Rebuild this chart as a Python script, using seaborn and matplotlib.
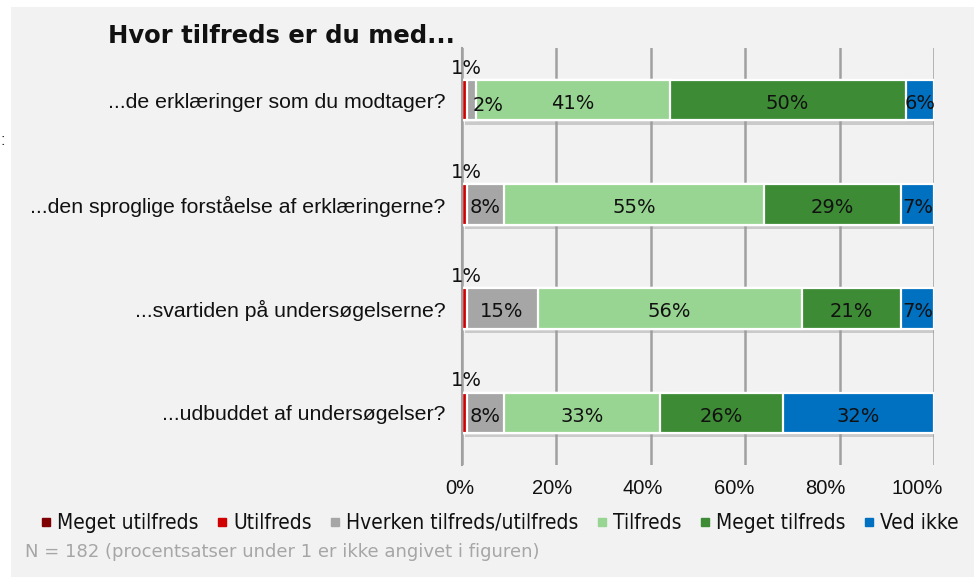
import matplotlib
matplotlib.use("Agg")
import matplotlib.pyplot as plt
import matplotlib.patheffects as pe
import matplotlib.transforms as mtransforms
from matplotlib.patches import Rectangle
from matplotlib.lines import Line2D
import seaborn as sns
import numpy as np
import pandas as pd

categories = [
    "...de erklæringer som du modtager?",
    "...den sproglige forståelse af erklæringerne?",
    "...svartiden på undersøgelserne?",
    "...udbuddet af undersøgelser?",
]
series_names = ["Meget utilfreds", "Utilfreds", "Hverken tilfreds/utilfreds",
                "Tilfreds", "Meget tilfreds", "Ved ikke"]
meget_utilfreds = [0, 0, 0, 0]
utilfreds = [1, 1, 1, 1]
hverken = [2, 8, 15, 8]
tilfreds = [41, 55, 56, 33]
meget_tilfreds = [50, 29, 21, 26]
ved_ikke = [6, 7, 7, 32]
x_ticks = [0, 20, 40, 60, 80, 100]
x_tick_labels = ["0%", "20%", "40%", "60%", "80%", "100%"]

colors = ["#7F0000", "#D00000", "#A6A6A6", "#99D592", "#3D8C35", "#0070C0"]
values = [meget_utilfreds, utilfreds, hverken, tilfreds, meget_tilfreds, ved_ikke]

sns.set_theme(style="white")
plt.rcParams["font.family"] = ["Liberation Sans", "DejaVu Sans"]

fig = plt.figure(figsize=(9.74, 5.77), dpi=100)
fig.patch.set_facecolor("white")
fig.add_artist(Rectangle((11 / 974, 0), 1, 1 - 7 / 577, transform=fig.transFigure,
                         facecolor="#F2F2F2", edgecolor="none", zorder=-10))
fig.text(0.0, 1 - 145 / 577, ":", fontsize=12, color="#333333")

ax = fig.add_axes([462 / 974, 1 - 465 / 577, (934 - 462) / 974, (465 - 48) / 577])
ax.set_facecolor("none")

df = pd.DataFrame({"category": categories})
cum = np.zeros(len(categories))
cums = []
for v in values:
    cum = cum + np.array(v, dtype=float)
    cums.append(cum.copy())

bar_h = 0.39
for i in range(len(values) - 1, -1, -1):
    df["val"] = cums[i]
    n_before = len(ax.patches)
    sns.barplot(data=df, x="val", y="category", color=colors[i], orient="h",
                width=bar_h, edgecolor="white", linewidth=1.6, errorbar=None,
                saturation=1, ax=ax)
    if i == len(values) - 1:
        for p in ax.patches[n_before:]:
            p.set_path_effects([pe.SimplePatchShadow(offset=(2, -3), shadow_rgbFace="#9A9A9A", alpha=0.45),
                                pe.Normal()])

label_font = dict(family=["DejaVu Sans"], fontsize=14, color="#111111")
for i, v in enumerate(values):
    for r, val in enumerate(v):
        if val <= 0:
            continue
        end = cums[i][r]
        start = end - val
        if val == 1:
            ax.text(end, r - bar_h / 2 - 0.02, f"{val}%", ha="center", va="bottom", **label_font)
        elif val <= 2:
            ax.text(end - 0.8, r + 0.05, f"{val}%", ha="left", va="center", **label_font)
        else:
            ax.text((start + end) / 2, r + 0.03, f"{val}%", ha="center", va="center", **label_font)

ax.set_xlim(0, 100)
ax.set_ylim(3.5, -0.5)
ax.set_xticks(x_ticks)
ax.set_xticklabels([])
# tick labels drawn as texts; the reference's labels drift slightly left of their gridlines
shifts_px = [-2, -4, -8, -11, -14, -17]
xtrans = mtransforms.blended_transform_factory(ax.transData, ax.transAxes)
for xv, lab, dx in zip(x_ticks, x_tick_labels, shifts_px):
    ax.text(xv, 0, lab, fontsize=14.5, color="#111111", ha="center", va="center",
            transform=xtrans + mtransforms.ScaledTranslation(dx / 100, -23 / 100, fig.dpi_scale_trans),
            clip_on=False)
ax.set_yticks(range(len(categories)))
ax.set_yticklabels(categories, fontsize=15.3, color="#111111")
ax.set_yticks(np.arange(-0.5, 4, 1), minor=True)
ax.tick_params(axis="y", which="major", length=0, pad=12)
ax.tick_params(axis="y", which="minor", length=6, width=1.5, color="#A0A0A0", direction="out")
ax.tick_params(axis="x", length=4, width=1.5, color="#A0A0A0", pad=6)
ax.set_xlabel("")
ax.set_ylabel("")
ax.xaxis.grid(True, color="#A0A0A0", linewidth=1.8)
ax.set_axisbelow(True)
for s in ["top", "right", "bottom"]:
    ax.spines[s].set_visible(False)
ax.spines["left"].set_color("#A0A0A0")
ax.spines["left"].set_linewidth(1.5)

fig.text(108 / 974, 1 - 36 / 577, "Hvor tilfreds er du med...", fontsize=17.5, fontweight="bold",
         color="#111111", va="center", ha="left", family=["DejaVu Sans"])

handles = [Line2D([0], [0], marker="s", linestyle="none", markersize=6,
                  markerfacecolor=c, markeredgecolor=c) for c in colors]
leg = fig.legend(handles, series_names, loc="center", bbox_to_anchor=(0.513, 1 - 523 / 577),
                 ncol=6, frameon=False, handlelength=0.5, handletextpad=0.3, columnspacing=0.86,
                 prop={"family": ["DejaVu Sans"], "size": 15, "stretch": "condensed"})
for t in leg.get_texts():
    t.set_color("#111111")

fig.text(25 / 974, 1 - 552 / 577, "N = 182 (procentsatser under 1 er ikke angivet i figuren)",
         fontsize=13, color="#A6A6A6", va="center", ha="left",
         family=["DejaVu Sans"])

fig.savefig("out.png", dpi=100, facecolor=fig.get_facecolor())
